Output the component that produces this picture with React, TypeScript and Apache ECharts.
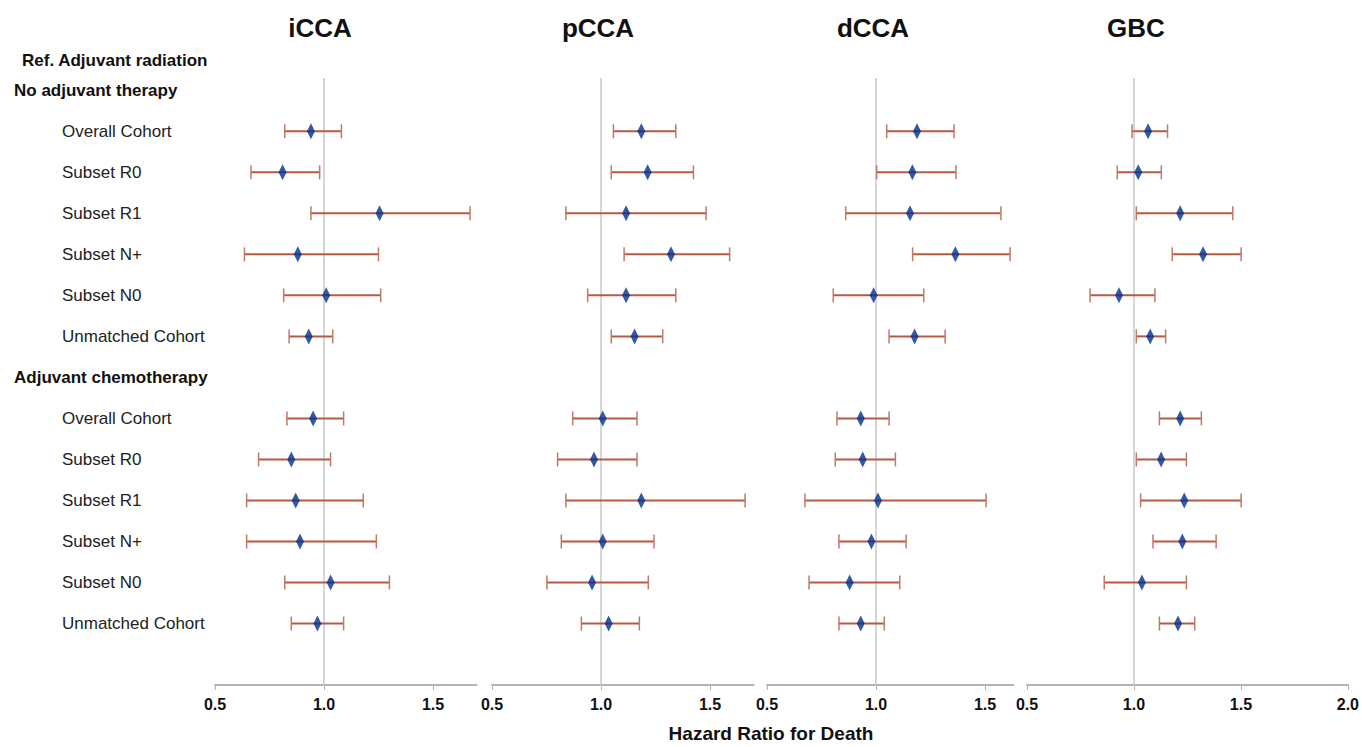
import React, { useEffect, useRef } from 'react';
import * as echarts from 'echarts';

const rowLabels = [
  'No adjuvant therapy', 'Overall Cohort', 'Subset R0', 'Subset R1', 'Subset N+', 'Subset N0', 'Unmatched Cohort',
  'Adjuvant chemotherapy', 'Overall Cohort', 'Subset R0', 'Subset R1', 'Subset N+', 'Subset N0', 'Unmatched Cohort',
];
const headerRows = [0, 7];
const dataRows = [1, 2, 3, 4, 5, 6, 8, 9, 10, 11, 12, 13];
const panelTitles = ['iCCA', 'pCCA', 'dCCA', 'GBC'];
const refLabel = 'Ref. Adjuvant radiation';
const xAxisTitle = 'Hazard Ratio for Death';

// iCCA
const iccaHR = [0.94, 0.81, 1.255, 0.88, 1.01, 0.93, 0.95, 0.85, 0.87, 0.89, 1.03, 0.97];
const iccaLo = [0.82, 0.665, 0.94, 0.635, 0.815, 0.84, 0.83, 0.70, 0.645, 0.645, 0.82, 0.85];
const iccaHi = [1.08, 0.98, 1.67, 1.25, 1.26, 1.04, 1.09, 1.03, 1.18, 1.24, 1.30, 1.09];
// pCCA
const pccaHR = [1.185, 1.214, 1.115, 1.321, 1.115, 1.154, 1.008, 0.968, 1.185, 1.008, 0.959, 1.035];
const pccaLo = [1.057, 1.047, 0.839, 1.106, 0.939, 1.047, 0.870, 0.801, 0.839, 0.818, 0.752, 0.910];
const pccaHi = [1.343, 1.424, 1.482, 1.590, 1.343, 1.283, 1.165, 1.165, 1.661, 1.243, 1.217, 1.176];
// dCCA
const dccaHR = [1.188, 1.167, 1.156, 1.364, 0.989, 1.177, 0.930, 0.939, 1.009, 0.979, 0.879, 0.930];
const dccaLo = [1.049, 1.003, 0.861, 1.168, 0.804, 1.060, 0.821, 0.813, 0.674, 0.830, 0.693, 0.830];
const dccaHi = [1.358, 1.367, 1.573, 1.615, 1.219, 1.317, 1.060, 1.089, 1.505, 1.138, 1.109, 1.038];
// GBC
const gbcHR = [1.066, 1.020, 1.216, 1.323, 0.930, 1.076, 1.216, 1.127, 1.235, 1.226, 1.037, 1.206];
const gbcLo = [0.991, 0.922, 1.011, 1.179, 0.795, 1.011, 1.119, 1.011, 1.031, 1.089, 0.861, 1.119];
const gbcHi = [1.157, 1.128, 1.462, 1.501, 1.098, 1.148, 1.315, 1.245, 1.501, 1.384, 1.245, 1.284];

const xTicks = [[0.5, 1.0, 1.5], [0.5, 1.0, 1.5], [0.5, 1.0, 1.5], [0.5, 1.0, 1.5, 2.0]];
const xMin = 0.5;
const xMax = [1.7, 1.7, 1.63, 2.0];

const panelData = [
  { hr: iccaHR, lo: iccaLo, hi: iccaHi },
  { hr: pccaHR, lo: pccaLo, hi: pccaHi },
  { hr: dccaHR, lo: dccaLo, hi: dccaHi },
  { hr: gbcHR, lo: gbcLo, hi: gbcHi },
];

const FONT = '"Liberation Sans", Arial, sans-serif';
const CI_COLOR = '#b65a44';
const CAP_COLOR = '#c07a66';
const DIAMOND = '#002f8e';
const PX_PER_UNIT = 218;
const gridLefts = [215, 492, 767, 1027];
const titleX = [320, 598, 873, 1136];

export default function App() {
  const ref = useRef<HTMLDivElement>(null);
  useEffect(() => {
    if (!ref.current) return;
    const chart = echarts.init(ref.current, undefined, { renderer: 'svg' });
    const grids: any[] = [];
    const xAxes: any[] = [];
    const yAxes: any[] = [];
    const series: any[] = [];
    panelData.forEach((p, i) => {
      grids.push({
        left: gridLefts[i],
        width: (xMax[i] - xMin) * PX_PER_UNIT,
        top: 78,
        height: 607,
        containLabel: false,
      });
      xAxes.push({
        gridIndex: i,
        type: 'value',
        position: 'bottom',
        min: xMin,
        max: xMax[i],
        axisLine: { show: true, onZero: false, lineStyle: { color: '#b4b4b4', width: 2 } },
        axisTick: { show: true, customValues: xTicks[i], length: 5, lineStyle: { color: '#b4b4b4', width: 1 } },
        axisLabel: {
          show: true,
          customValues: xTicks[i],
          formatter: (v: number) => v.toFixed(1),
          fontFamily: FONT,
          fontWeight: 'bold',
          fontSize: 16,
          color: '#111',
          margin: 11,
        },
        splitLine: { show: false },
      });
      yAxes.push({
        gridIndex: i,
        type: 'value',
        inverse: true,
        min: -0.3,
        max: 14.5,
        axisLine: { show: false },
        axisTick: { show: false },
        splitLine: { show: false },
        axisLabel:
          i === 0
            ? {
                show: true,
                customValues: rowLabels.map((_, k) => k),
                align: 'left',
                margin: gridLefts[0] - 14,
                formatter: (v: number) =>
                  headerRows.includes(v) ? `{h|${rowLabels[v]}}` : `{r|${rowLabels[v]}}`,
                rich: {
                  h: { fontFamily: FONT, fontWeight: 'bold', fontSize: 17, color: '#111' },
                  r: { fontFamily: FONT, fontSize: 17, color: '#222', padding: [0, 0, 0, 48] },
                },
              }
            : { show: false },
      });
      series.push({
        type: 'custom',
        xAxisIndex: i,
        yAxisIndex: i,
        z: 2,
        silent: true,
        encode: { x: [0, 1], y: 2 },
        data: dataRows.map((r, k) => [p.lo[k], p.hi[k], r]),
        renderItem: (_params: any, api: any) => {
          const a = api.coord([api.value(0), api.value(2)]);
          const b = api.coord([api.value(1), api.value(2)]);
          const h = 7;
          return {
            type: 'group',
            children: [
              { type: 'line', shape: { x1: a[0], y1: a[1], x2: b[0], y2: b[1] }, style: { stroke: CI_COLOR, lineWidth: 2 } },
              { type: 'line', shape: { x1: a[0], y1: a[1] - h, x2: a[0], y2: a[1] + h }, style: { stroke: CAP_COLOR, lineWidth: 1.5 } },
              { type: 'line', shape: { x1: b[0], y1: b[1] - h, x2: b[0], y2: b[1] + h }, style: { stroke: CAP_COLOR, lineWidth: 1.5 } },
            ],
          };
        },
      });
      series.push({
        type: 'scatter',
        xAxisIndex: i,
        yAxisIndex: i,
        z: 3,
        silent: true,
        symbol: 'diamond',
        symbolSize: [8, 16],
        itemStyle: { color: DIAMOND },
        data: dataRows.map((r, k) => [p.hr[k], r]),
        markLine: {
          silent: true,
          symbol: ['none', 'none'],
          label: { show: false },
          lineStyle: { color: '#c8c8c8', width: 1.5, type: 'solid' },
          data: [{ xAxis: 1 }],
          z: 1,
        },
      });
    });

    const graphics: any[] = panelTitles.map((t, i) => ({
      type: 'text',
      x: titleX[i],
      y: 28,
      style: { text: t, fontFamily: FONT, fontWeight: 'bold', fontSize: 26, fill: '#111', textAlign: 'center', textVerticalAlign: 'middle' },
    }));
    graphics.push({
      type: 'text',
      x: 22,
      y: 60,
      style: { text: refLabel, fontFamily: FONT, fontWeight: 'bold', fontSize: 17, fill: '#111', textAlign: 'left', textVerticalAlign: 'middle' },
    });
    graphics.push({
      type: 'text',
      x: 771,
      y: 733,
      style: { text: xAxisTitle, fontFamily: FONT, fontWeight: 'bold', fontSize: 19, fill: '#111', textAlign: 'center', textVerticalAlign: 'middle' },
    });

    chart.setOption({
      animation: false,
      backgroundColor: '#ffffff',
      grid: grids,
      xAxis: xAxes,
      yAxis: yAxes,
      series,
      graphic: graphics,
    });
    return () => chart.dispose();
  }, []);
  return <div ref={ref} style={{ position: 'fixed', left: 0, top: 0, width: 1362, height: 747 }} />;
}
